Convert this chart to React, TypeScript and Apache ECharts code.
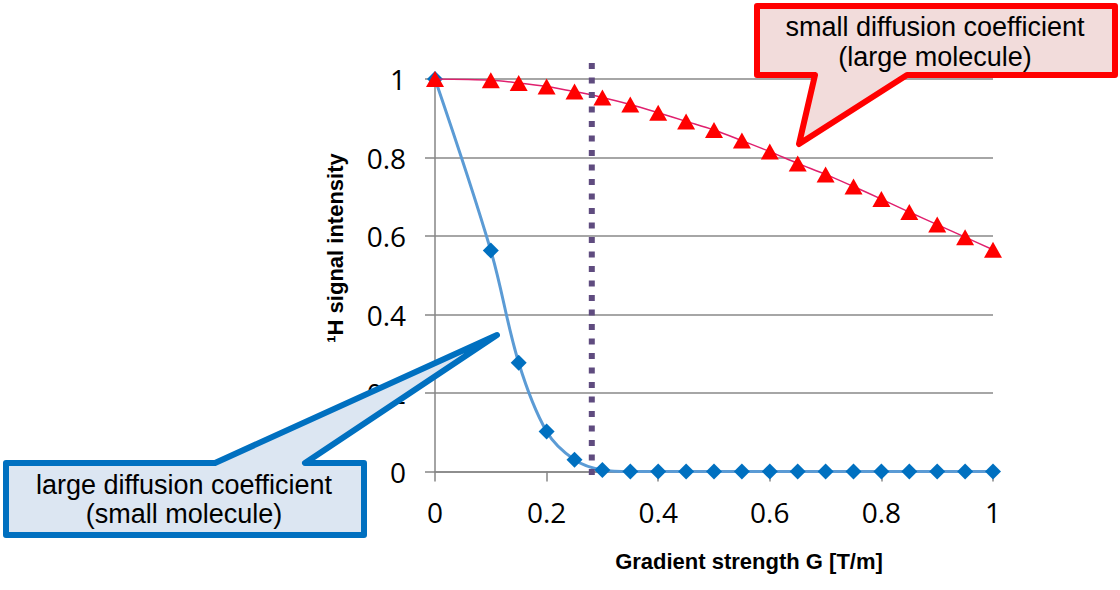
import React, { useEffect, useRef } from "react";
import * as echarts from "echarts";

const blueX = [0, 0.1, 0.15, 0.2, 0.25, 0.3, 0.35, 0.4, 0.45, 0.5, 0.55, 0.6, 0.65, 0.7, 0.75, 0.8, 0.85, 0.9, 0.95, 1.0];
const blueY = [1.0, 0.563, 0.277, 0.102, 0.03, 0.004, 0, 0, 0, 0, 0, 0, 0, 0, 0, 0, 0, 0, 0, 0];
const redX = [0, 0.1, 0.15, 0.2, 0.25, 0.3, 0.35, 0.4, 0.45, 0.5, 0.55, 0.6, 0.65, 0.7, 0.75, 0.8, 0.85, 0.9, 0.95, 1.0];
const redY = [1.0, 0.997, 0.99, 0.981, 0.968, 0.953, 0.935, 0.914, 0.892, 0.87, 0.843, 0.815, 0.785, 0.757, 0.726, 0.694, 0.661, 0.629, 0.597, 0.565];
const cutoffX = [0.281, 0.281];
const cutoffY = [-0.009, 1.06];

const xTitle = "Gradient strength G [T/m]";
const yTitle = "¹H signal intensity";
const blueNote = ["large diffusion coefficient", "(small molecule)"];
const redNote = ["small diffusion coefficient", "(large molecule)"];

const zip = (xs: number[], ys: number[]) => xs.map((x, i) => [x, ys[i]]);

export default function App() {
  const ref = useRef<HTMLDivElement>(null);
  useEffect(() => {
    if (!ref.current) return;
    const chart = echarts.init(ref.current, null, { renderer: "svg" });
    const labelFont = { fontFamily: "Open Sans", fontSize: 28, color: "#000" };
    const noteStyle = (text: string) => ({
      text,
      fontFamily: "Liberation Sans",
      fontSize: 27,
      fill: "#000",
      align: "center",
      verticalAlign: "middle",
    });
    chart.setOption({
      animation: false,
      backgroundColor: "#fff",
      grid: { left: 435, right: 127, top: 79, bottom: 118.5, containLabel: false },
      xAxis: {
        type: "value",
        min: 0,
        max: 1,
        interval: 0.2,
        axisLine: { show: true, lineStyle: { color: "#868686", width: 1.5 } },
        axisTick: { show: true, length: 10, lineStyle: { color: "#868686", width: 1.5 } },
        splitLine: { show: false },
        axisLabel: { ...labelFont, margin: 26 },
      },
      yAxis: {
        type: "value",
        min: 0,
        max: 1,
        interval: 0.2,
        axisLine: { show: true, lineStyle: { color: "#868686", width: 1.5 } },
        axisTick: { show: true, length: 10, lineStyle: { color: "#868686", width: 1.5 } },
        splitLine: { show: true, lineStyle: { color: "#898989", width: 1.5 } },
        axisLabel: { ...labelFont, margin: 29 },
      },
      series: [
        {
          type: "line",
          data: zip(blueX, blueY),
          smooth: 0.35,
          symbol: "diamond",
          symbolSize: 16,
          itemStyle: { color: "#0070c0" },
          lineStyle: { color: "#5b9bd5", width: 3 },
          z: 3,
        },
        {
          type: "line",
          data: zip(redX, redY),
          smooth: 0.3,
          symbol: "triangle",
          symbolSize: [18, 16],
          itemStyle: { color: "#ff0000" },
          lineStyle: { color: "#e0206e", width: 1.5 },
          z: 4,
        },
        {
          type: "line",
          data: zip(cutoffX, cutoffY),
          clip: false,
          symbol: "none",
          lineStyle: { color: "#5f4b7f", width: 6, type: [6, 8.5], cap: "butt" },
          z: 5,
        },
      ],
      graphic: [
        {
          type: "text",
          x: 749,
          y: 561,
          z: 50,
          style: {
            text: xTitle,
            fontFamily: "Liberation Sans",
            fontWeight: "bold",
            fontSize: 22,
            fill: "#000",
            align: "center",
            verticalAlign: "middle",
          },
        },
        {
          type: "text",
          x: 335,
          y: 248,
          rotation: Math.PI / 2,
          z: 50,
          style: {
            text: yTitle,
            fontFamily: "Liberation Sans",
            fontWeight: "bold",
            fontSize: 22,
            fill: "#000",
            align: "center",
            verticalAlign: "middle",
          },
        },
        {
          type: "polygon",
          z: 100,
          shape: {
            points: [
              [6, 463], [215, 463], [497, 335], [305, 463], [364, 463], [364, 535], [6, 535],
            ],
          },
          style: { fill: "#dce6f2", stroke: "#0070c0", lineWidth: 6, lineJoin: "round" },
        },
        { type: "text", x: 184, y: 485, z: 101, style: noteStyle(blueNote[0]) },
        { type: "text", x: 184, y: 514, z: 101, style: noteStyle(blueNote[1]) },
        {
          type: "polygon",
          z: 100,
          shape: {
            points: [
              [757, 6], [1115, 6], [1115, 75], [907, 75], [799, 144], [815, 75], [757, 75],
            ],
          },
          style: { fill: "#f2dcdb", stroke: "#ff0000", lineWidth: 6, lineJoin: "round" },
        },
        { type: "text", x: 935, y: 27, z: 101, style: noteStyle(redNote[0]) },
        { type: "text", x: 935, y: 57, z: 101, style: noteStyle(redNote[1]) },
      ],
    });
    return () => chart.dispose();
  }, []);
  return <div ref={ref} style={{ width: 1120, height: 590, position: "absolute", left: 0, top: 0 }} />;
}
